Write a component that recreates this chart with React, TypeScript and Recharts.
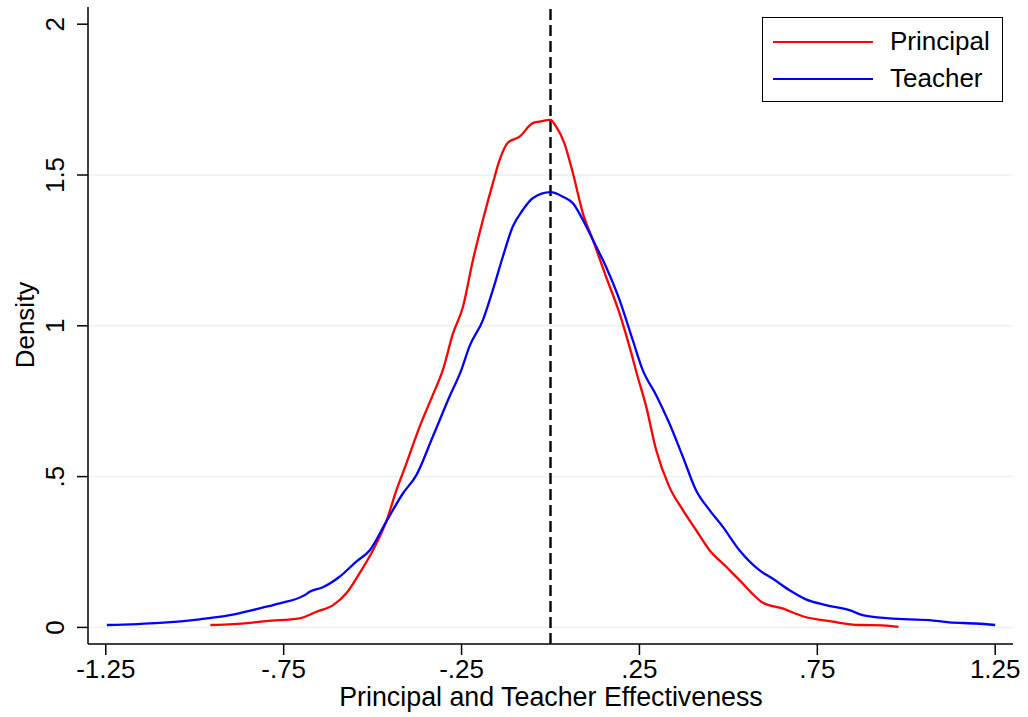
import { LineChart, Line, XAxis, YAxis, ReferenceLine, Label } from 'recharts';

// kernel density estimates
const teacherX = [-1.247, -1.098, -0.986, -0.885, -0.846, -0.812, -0.761, -0.691, -0.677, -0.64, -0.593, -0.546, -0.508, -0.462, -0.415, -0.377, -0.331, -0.284, -0.251, -0.228, -0.19, -0.162, -0.134, -0.106, -0.078, -0.05, 0, 0.035, 0.063, 0.091, 0.119, 0.156, 0.194, 0.231, 0.259, 0.297, 0.334, 0.372, 0.409, 0.447, 0.484, 0.531, 0.587, 0.624, 0.671, 0.718, 0.774, 0.84, 0.877, 0.952, 1.065, 1.121, 1.196, 1.25];
const teacherY = [0.008, 0.015, 0.027, 0.044, 0.055, 0.065, 0.08, 0.107, 0.118, 0.133, 0.168, 0.218, 0.256, 0.35, 0.444, 0.505, 0.632, 0.765, 0.852, 0.931, 1.019, 1.119, 1.229, 1.329, 1.384, 1.423, 1.443, 1.428, 1.406, 1.351, 1.285, 1.196, 1.086, 0.953, 0.854, 0.77, 0.677, 0.566, 0.455, 0.389, 0.334, 0.256, 0.19, 0.162, 0.124, 0.093, 0.074, 0.057, 0.041, 0.03, 0.024, 0.017, 0.013, 0.008];

const principalX = [-0.956, -0.892, -0.846, -0.799, -0.705, -0.658, -0.611, -0.574, -0.537, -0.499, -0.462, -0.433, -0.405, -0.368, -0.331, -0.303, -0.274, -0.246, -0.218, -0.19, -0.162, -0.143, -0.12, -0.087, -0.05, -0.031, 0, 0.016, 0.039, 0.063, 0.091, 0.119, 0.156, 0.194, 0.222, 0.245, 0.269, 0.297, 0.334, 0.372, 0.409, 0.447, 0.494, 0.531, 0.597, 0.652, 0.709, 0.793, 0.868, 0.934, 0.978];
const principalY = [0.008, 0.011, 0.015, 0.021, 0.03, 0.052, 0.074, 0.113, 0.179, 0.256, 0.35, 0.455, 0.544, 0.665, 0.77, 0.852, 0.975, 1.063, 1.218, 1.351, 1.473, 1.55, 1.607, 1.627, 1.672, 1.677, 1.683, 1.66, 1.605, 1.506, 1.373, 1.285, 1.163, 1.041, 0.931, 0.831, 0.732, 0.588, 0.466, 0.389, 0.323, 0.256, 0.201, 0.157, 0.082, 0.063, 0.037, 0.019, 0.008, 0.007, 0.002];

const xTicks = [-1.25, -0.75, -0.25, 0.25, 0.75, 1.25];
const yTicks = [0, 0.5, 1, 1.5, 2];
const gridLines = [0, 0.5, 1, 1.5];
const legendItems = [
  { name: 'Principal', color: '#ff0000' },
  { name: 'Teacher', color: '#0000ff' },
];

const teacherData = teacherX.map((x, i) => ({ x, y: teacherY[i] }));
const principalData = principalX.map((x, i) => ({ x, y: principalY[i] }));

const FONT = "Arial, 'Liberation Sans', sans-serif";
const FS = 26;

// stata-style numbers: drop the leading zero
const fmt = (v: number) => {
  const s = String(Math.abs(v)).replace(/^0\./, '.');
  return v < 0 ? '-' + s : s;
};

const XTick = ({ x, y, payload }: any) => (
  <text x={x} y={y + 21} textAnchor="middle" fontSize={FS} fontFamily={FONT} fill="#000">
    {fmt(payload.value)}
  </text>
);

const YTick = ({ x, y, payload }: any) => (
  <text
    x={x - 11}
    y={y}
    transform={`rotate(-90, ${x - 11}, ${y})`}
    textAnchor="middle"
    fontSize={FS}
    fontFamily={FONT}
    fill="#000"
  >
    {fmt(payload.value)}
  </text>
);

const LegendBox = () => (
  <div
    style={{
      position: 'absolute',
      left: 762,
      top: 17,
      width: 239,
      height: 83,
      border: '1.5px solid #000',
      background: '#fff',
      fontFamily: FONT,
      fontSize: FS,
    }}
  >
    {legendItems.map((r, i) => (
      <div key={r.name}>
        <div style={{ position: 'absolute', left: 10, top: 23 + i * 37, width: 100, height: 2.3, background: r.color }} />
        <div style={{ position: 'absolute', left: 127, top: 7 + i * 37, lineHeight: '32px' }}>{r.name}</div>
      </div>
    ))}
  </div>
);

export default function App() {
  return (
    <div style={{ position: 'absolute', left: 0, top: 0, width: 1028, height: 717, background: '#fff' }}>
      <LineChart width={1028} height={717} margin={{ top: 7, right: 15, bottom: 0, left: 0 }}>
        {gridLines.map((g) => (
          <ReferenceLine key={g} y={g} stroke="#eaf2f3" strokeWidth={1.5} />
        ))}
        <XAxis
          type="number"
          dataKey="x"
          domain={[-1.3, 1.3]}
          ticks={xTicks}
          allowDataOverflow
          height={73}
          tickSize={11}
          axisLine={{ stroke: '#000', strokeWidth: 1.5 }}
          tickLine={{ stroke: '#000', strokeWidth: 1.5 }}
          tick={<XTick />}
        >
          <Label
            content={() => (
              <text x={551} y={706} textAnchor="middle" fontSize={26.8} fontFamily={FONT} fill="#000">
                Principal and Teacher Effectiveness
              </text>
            )}
          />
        </XAxis>
        <YAxis
          type="number"
          dataKey="y"
          domain={[-0.055, 2.057]}
          ticks={yTicks}
          allowDataOverflow
          width={88}
          tickSize={11}
          axisLine={{ stroke: '#000', strokeWidth: 1.5 }}
          tickLine={{ stroke: '#000', strokeWidth: 1.5 }}
          tick={<YTick />}
        >
          <Label
            content={() => (
              <text
                x={34}
                y={325}
                transform="rotate(-90, 34, 325)"
                textAnchor="middle"
                fontSize={FS}
                fontFamily={FONT}
                fill="#000"
              >
                Density
              </text>
            )}
          />
        </YAxis>
        <ReferenceLine x={0} stroke="#000" strokeWidth={2.4} strokeDasharray="11 5" />
        <Line
          data={principalData}
          dataKey="y"
          name="Principal"
          type="monotone"
          stroke="#ff0000"
          strokeWidth={2.3}
          dot={false}
          isAnimationActive={false}
        />
        <Line
          data={teacherData}
          dataKey="y"
          name="Teacher"
          type="monotone"
          stroke="#0000ff"
          strokeWidth={2.3}
          dot={false}
          isAnimationActive={false}
        />
      </LineChart>
      <LegendBox />
    </div>
  );
}
